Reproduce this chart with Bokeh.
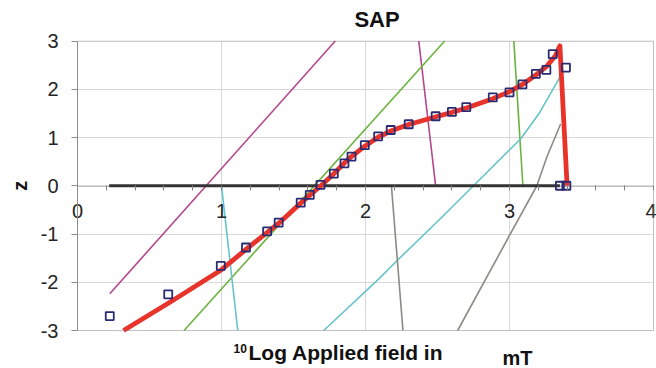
from bokeh.plotting import figure
from bokeh.models import Range1d, FixedTicker, Label, BoxAnnotation
from bokeh.embed import file_html
from bokeh.resources import INLINE

# ---- data ----
x_ticks = [0, 1, 2, 3, 4]
x_minor = [0.2, 0.4, 0.6, 0.8, 1.2, 1.4, 1.6, 1.8, 2.2, 2.4, 2.6, 2.8, 3.2, 3.4, 3.6, 3.8]
y_ticks = [-3, -2, -1, 0, 1, 2, 3]

# smoothed fit (red)
fit_x = [0.32, 0.65, 1.00, 1.17, 1.32, 1.40, 1.55, 1.69, 1.78, 1.85, 1.90, 2.00, 2.09, 2.18,
         2.30, 2.49, 2.60, 2.70, 2.88, 3.00, 3.09, 3.18, 3.26, 3.32, 3.35, 3.40]
fit_z = [-3.00, -2.40, -1.74, -1.32, -0.96, -0.77, -0.36, 0.00, 0.25, 0.46, 0.60, 0.83, 1.01, 1.14,
         1.27, 1.43, 1.52, 1.61, 1.80, 1.95, 2.10, 2.29, 2.48, 2.70, 2.90, 0.00]

# measured points (open squares)
obs_x = [0.224, 0.63, 0.995, 1.17, 1.317, 1.397, 1.55, 1.613, 1.6875, 1.78, 1.854, 1.903, 1.995,
         2.088, 2.175, 2.30, 2.487, 2.60, 2.70, 2.884, 3.00, 3.09, 3.183, 3.256, 3.30, 3.392,
         3.35, 3.395]
obs_z = [-2.70, -2.25, -1.66, -1.28, -0.945, -0.765, -0.35, -0.19, 0.02, 0.25, 0.465, 0.605, 0.84,
         1.025, 1.155, 1.275, 1.44, 1.53, 1.63, 1.83, 1.935, 2.10, 2.32, 2.40, 2.73, 2.45,
         0.0, 0.0]

# zero line (black)
zero_x = [0.22, 3.35]
zero_z = [0.0, 0.0]

# component lines
mag1_x = [0.224, 1.79]
mag1_z = [-2.24, 3.0]
mag2_x = [2.37, 2.487]
mag2_z = [3.0, 0.0]
grn1_x = [0.74, 2.55]
grn1_z = [-3.0, 3.0]
grn2_x = [3.03, 3.093]
grn2_z = [3.0, 0.0]
cyn1_x = [1.0, 1.113]
cyn1_z = [0.0, -3.0]
cyn2_x = [1.71, 2.10, 2.22, 2.50, 2.75, 3.08, 3.21, 3.35]
cyn2_z = [-3.0, -1.91, -1.55, -0.74, 0.0, 0.98, 1.52, 2.25]
gry1_x = [2.18, 2.26]
gry1_z = [0.0, -3.0]
gry2_x = [2.64, 3.00, 3.19, 3.26, 3.355]
gry2_z = [-3.0, -1.03, 0.0, 0.60, 1.28]

FONT = "Liberation Sans"
W, H = 656, 368
PX_X = 144.0     # pixels per x unit
PX_Y = 48.25     # pixels per z unit
LEFT = 77.0      # pixel of x = 0
TOP = 40.5       # pixel of z = 3

x0 = x_ticks[0]
x1 = x_ticks[-1]
z0 = y_ticks[0]
z1 = y_ticks[-1]

p = figure(width=W, height=H,
           x_range=Range1d(x0 - LEFT / PX_X, x0 + (W - LEFT) / PX_X),
           y_range=Range1d(z1 - (H - TOP) / PX_Y, z1 + TOP / PX_Y),
           output_backend="svg", toolbar_location=None, title=None,
           min_border_left=0, min_border_right=0, min_border_top=0, min_border_bottom=0)
p.background_fill_color = "white"
p.border_fill_color = "white"
p.outline_line_color = None

# grid limited to the plot area
p.xgrid.ticker = FixedTicker(ticks=x_ticks)
p.ygrid.ticker = FixedTicker(ticks=y_ticks)
p.grid.grid_line_color = "#d9d9d9"
p.grid.grid_line_width = 1
try:
    p.xgrid.cross_bounds = (z0, z1)
    p.ygrid.cross_bounds = (x0, x1)
except Exception:
    p.grid.visible = False
    p.segment(x0=x_ticks, y0=[z0] * len(x_ticks), x1=x_ticks, y1=[z1] * len(x_ticks),
              line_color="#d9d9d9", line_width=1, level="underlay")
    p.segment(x0=[x0] * len(y_ticks), y0=y_ticks, x1=[x1] * len(y_ticks), y1=y_ticks,
              line_color="#d9d9d9", line_width=1, level="underlay")

# x axis crossing at z = 0
xa = p.xaxis[0]
xa.fixed_location = 0
xa.bounds = (x0, x1)
xa.ticker = FixedTicker(ticks=x_ticks, minor_ticks=x_minor)
xa.axis_line_color = None
xa.major_tick_line_color = "#808080"
xa.minor_tick_line_color = "#808080"
xa.major_tick_in = 0
xa.major_tick_out = 5
xa.minor_tick_in = 0
xa.minor_tick_out = 5
xa.major_label_standoff = 13
xa.major_label_text_font = FONT
xa.major_label_text_font_size = "20px"
xa.major_label_text_color = "#262626"

# y axis at x = 0 (plain hyphen minus signs as in the reference)
ya = p.yaxis[0]
ya.fixed_location = x0
ya.bounds = (z0, z1)
ya.ticker = FixedTicker(ticks=y_ticks)
ya.major_label_overrides = {t: str(t) for t in y_ticks}
ya.axis_line_color = "#8c8c8c"
ya.major_tick_line_color = "#8c8c8c"
ya.minor_tick_line_color = None
ya.major_tick_in = 0
ya.major_tick_out = 6
ya.major_label_standoff = 13
ya.major_label_text_font = FONT
ya.major_label_text_font_size = "20px"
ya.major_label_text_color = "#262626"

# border of the plot area
p.add_layout(BoxAnnotation(left=x0, right=x1, bottom=z0, top=z1, fill_alpha=0,
                           line_color="#8c8c8c", line_width=1))

# axis line at z = 0 (underneath the data)
p.line([x0, x1], [0, 0], line_color="#808080", line_width=1.5, level="underlay")

# component lines
p.line(mag1_x, mag1_z, line_color="#b3468c", line_width=1.6)
p.line(mag2_x, mag2_z, line_color="#b3468c", line_width=1.6)
p.line(grn1_x, grn1_z, line_color="#6cb33e", line_width=1.6)
p.line(grn2_x, grn2_z, line_color="#6cb33e", line_width=1.6)
p.line(cyn1_x, cyn1_z, line_color="#66c4c8", line_width=1.6)
p.line(cyn2_x, cyn2_z, line_color="#66c4c8", line_width=1.6)
p.line(gry1_x, gry1_z, line_color="#8e8985", line_width=1.6)
p.line(gry2_x, gry2_z, line_color="#8e8985", line_width=1.6)

# zero line
p.line(zero_x, zero_z, line_color="#333333", line_width=3)

# fit
p.line(fit_x, fit_z, line_color="#e8332a", line_width=4.8, line_join="round")

# points
p.scatter(obs_x, obs_z, marker="square", size=8, fill_color=None,
          line_color="#2b2b73", line_width=1.8)

# texts (vertically centred on the glyphs)
TXT = "#111111"
p.add_layout(Label(x=2.08, y=3.446, text="SAP", text_font=FONT, text_font_size="22px",
                   text_font_style="bold", text_align="center", text_baseline="middle",
                   text_color=TXT))
p.add_layout(Label(x=-0.40, y=0.0, text="z", angle=1.5708, text_font=FONT,
                   text_font_size="20px", text_font_style="bold", text_align="center",
                   text_baseline="middle", text_color=TXT))
p.add_layout(Label(x=1.0833, y=-3.373, text="10", text_font=FONT, text_font_size="12px",
                   text_font_style="bold", text_align="left", text_baseline="middle",
                   text_color=TXT))
p.add_layout(Label(x=1.1875, y=-3.45, text="Log Applied field in", text_font=FONT,
                   text_font_size="21px", text_font_style="bold", text_align="left",
                   text_baseline="middle", text_color=TXT))
p.add_layout(Label(x=2.951, y=-3.58, text="mT", text_font=FONT, text_font_size="20px",
                   text_font_style="bold", text_align="left", text_baseline="middle",
                   text_color=TXT))

open("out.html", "w").write(file_html(p, INLINE))
